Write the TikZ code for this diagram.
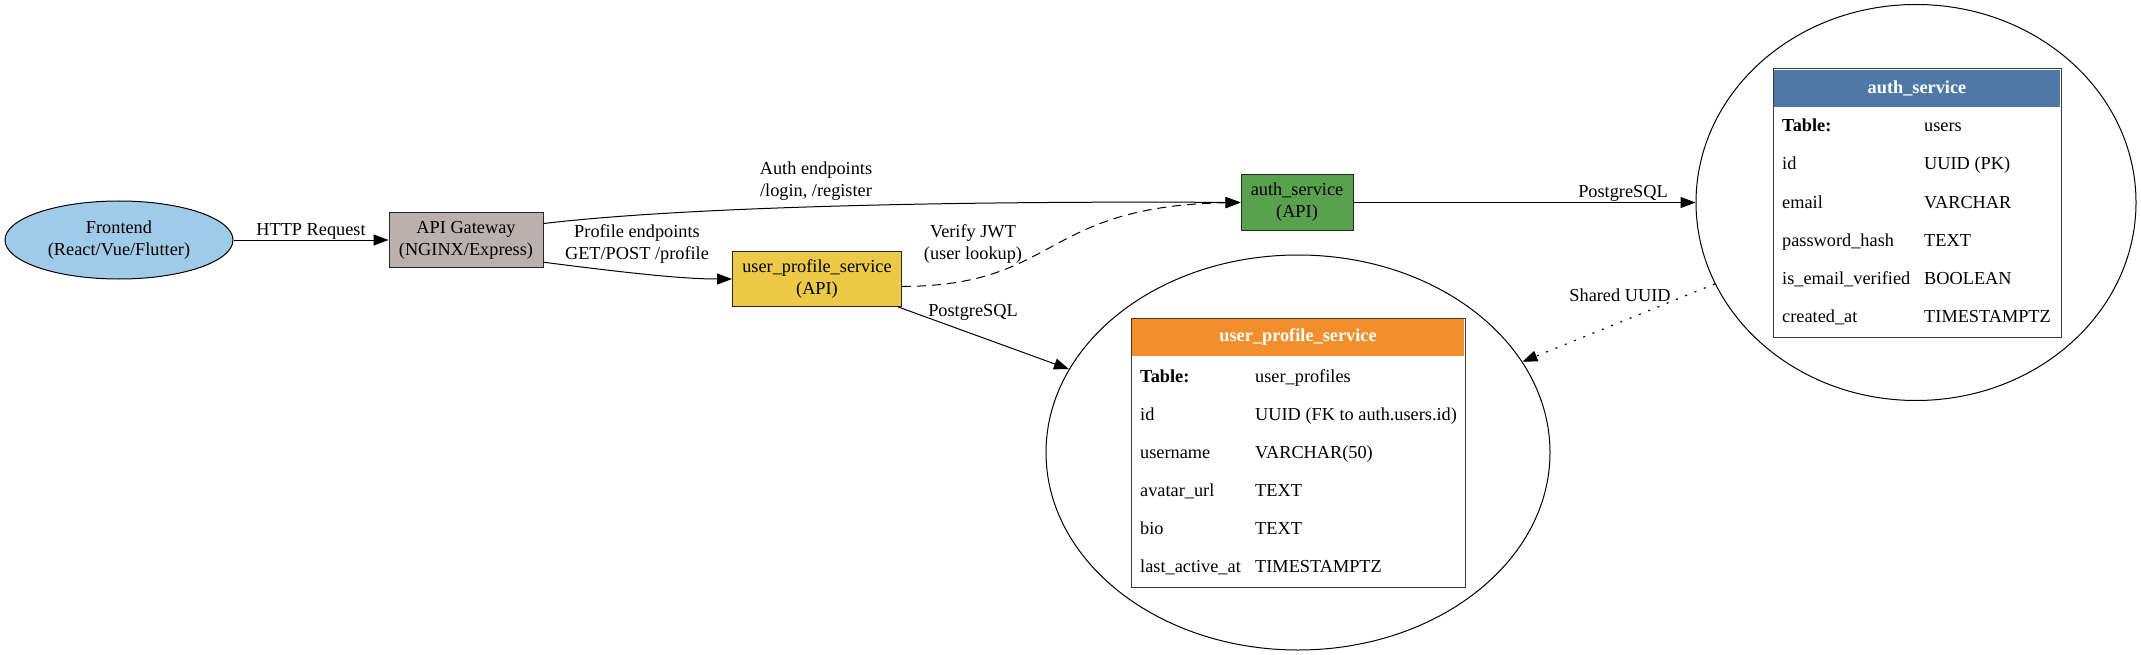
\documentclass[tikz,border=0pt]{standalone}
\usepackage{fontspec}
\setmainfont{Liberation Serif}
\usetikzlibrary{arrows.meta,shapes.geometric}
\definecolor{feblue}{HTML}{A0CBE8}
\definecolor{gwgray}{HTML}{BAB0AC}
\definecolor{upyellow}{HTML}{EDC948}
\definecolor{authgreen}{HTML}{59A14F}
\definecolor{hdblue}{HTML}{4E79A7}
\definecolor{hdorange}{HTML}{F28E2B}
\definecolor{tabborder}{HTML}{3A3A3A}
\begin{document}
\begin{tikzpicture}[x=1pt,y=-1pt,
  txt/.style={font=\fontsize{18.3}{22}\selectfont, inner sep=0pt, align=center},
  svc/.style={draw=black!85, line width=1pt, rectangle, minimum height=55pt, txt},
  dbell/.style={ellipse, draw=black, line width=1pt, inner sep=0pt},
  edge/.style={line width=1pt, -{Triangle[length=15pt,width=11pt]}},
  dashedge/.style={edge, dash pattern=on 9pt off 6pt},
  dotedge/.style={edge, line width=1.2pt, dash pattern=on 2pt off 8pt},
  tabframe/.style={draw=tabborder, line width=1pt, inner sep=0pt, fill=white},
  tabhead/.style={inner sep=0pt, text=white, font=\fontsize{18.3}{22}\selectfont\bfseries},
  cell/.style={font=\fontsize{18.3}{22}\selectfont, inner sep=0pt, anchor=base west}]
\useasboundingbox (0,0) rectangle (2141,655);
\fill[white] (0,0) rectangle (2141,655);

% service nodes
\node[ellipse, draw=black, line width=1pt, fill=feblue, minimum width=228pt, minimum height=78pt, txt] (fe) at (119,240) {Frontend\\(React/Vue/Flutter)};
\node[svc, fill=gwgray, minimum width=154pt] (gw) at (466,240) {API Gateway\\(NGINX/Express)};
\node[svc, fill=upyellow, minimum width=169pt] (ups) at (817,279) {user\_profile\_service\\(API)};
\node[svc, fill=authgreen, minimum width=112pt] (auth) at (1297,202.5) {auth\_service\\(API)};

% database ellipses
\node[dbell, minimum width=440pt, minimum height=396pt] (authdb) at (1916,202.5) {};
\node[dbell, minimum width=504pt, minimum height=395pt] (updb) at (1298,452.5) {};

% auth table
\node[tabframe, minimum width=288pt, minimum height=268pt] (authtab) at (1917,203) {};
\node[tabhead, fill=hdblue, minimum width=286pt, minimum height=37pt] (authhead) at (1917,88.5) {auth\_service};
\foreach \i/\k/\v in {0/{\textbf{Table:}}/users, 1/id/{UUID (PK)}, 2/email/VARCHAR, 3/password\_hash/TEXT, 4/is\_email\_verified/BOOLEAN, 5/created\_at/TIMESTAMPTZ} {
  \node[cell] (ak\i) at (1782,{132+38*\i}) {\k};
  \node[cell] (av\i) at (1924,{132+38*\i}) {\v};
}

% user profile table
\node[tabframe, minimum width=334pt, minimum height=269pt] (uptab) at (1298,452.5) {};
\node[tabhead, fill=hdorange, minimum width=332pt, minimum height=37pt] (uphead) at (1298,337.5) {user\_profile\_service};
\foreach \i/\k/\v in {0/{\textbf{Table:}}/user\_profiles, 1/id/{UUID (FK to auth.users.id)}, 2/username/VARCHAR(50), 3/avatar\_url/TEXT, 4/bio/TEXT, 5/last\_active\_at/TIMESTAMPTZ} {
  \node[cell] (uk\i) at (1140,{382+38*\i}) {\k};
  \node[cell] (uv\i) at (1255,{382+38*\i}) {\v};
}

% edges
\draw[edge] (fe) -- (gw);
\draw[edge] (gw.12) .. controls (700,205) and (1000,201) .. (auth.west);
\draw[edge] (gw.-16) .. controls (620,272) and (680,279) .. (ups.west);
\draw[dashedge] (ups.-5) .. controls (1060,286) and (1040,206) .. (auth.west);
\draw[edge] (ups.-19) -- (updb);
\draw[edge] (auth) -- (authdb);
\draw[dotedge] (authdb) -- (updb);

% edge labels
\node[txt] (lhttp) at (311,231) {HTTP Request};
\node[txt] (lauth) at (816,181) {Auth endpoints\\/login, /register};
\node[txt] (lprof) at (637,244) {Profile endpoints\\GET/POST /profile};
\node[txt] (ljwt) at (973,244) {Verify JWT\\(user lookup)};
\node[txt] (lpg1) at (973,312) {PostgreSQL};
\node[txt] (lpg2) at (1623,193) {PostgreSQL};
\node[txt] (luuid) at (1620,295) {Shared UUID};
\end{tikzpicture}
\end{document}
